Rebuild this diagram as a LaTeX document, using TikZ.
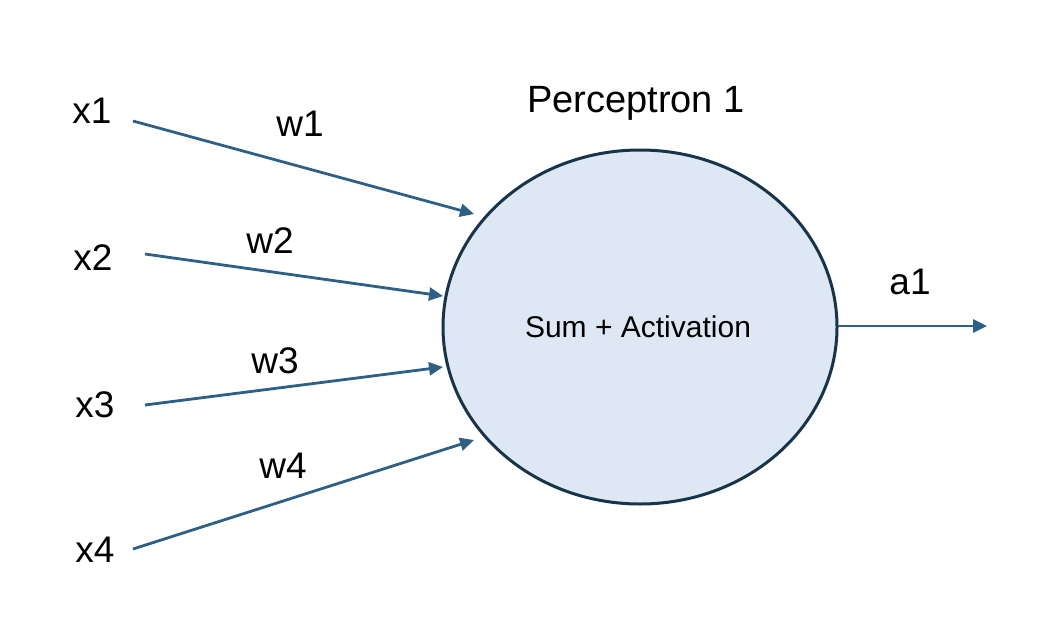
\documentclass[tikz,border=0pt]{standalone}
\usepackage{fontspec}
\setmainfont{Liberation Sans}
\usetikzlibrary{arrows.meta,shapes.geometric}
\definecolor{arrowblue}{HTML}{2E6085}
\definecolor{cellfill}{HTML}{DEE8F4}
\definecolor{celledge}{HTML}{17344A}
\begin{document}
\begin{tikzpicture}[x=1pt,y=-1pt,
  lbl/.style={font=\fontsize{37}{40}\selectfont, inner sep=0pt, anchor=center},
  conn/.style={draw=arrowblue, line width=2.8pt, -{Triangle[length=14pt,width=13pt]}}]
\useasboundingbox (0,0) rectangle (1056,634);
\node[ellipse, draw=celledge, fill=cellfill, line width=3pt, minimum width=394pt, minimum height=354pt, inner sep=0pt] (cell) at (640,327) {};
\node[font=\fontsize{30}{34}\selectfont, inner sep=0pt] (inner) at (638,327) {Sum + Activation};
\node[font=\fontsize{38}{42}\selectfont, inner sep=0pt] (title) at (636,103) {Perceptron 1};
\node[lbl] (x1) at (92,111) {x1};
\node[lbl] (x2) at (93,258) {x2};
\node[lbl] (x3) at (95,405) {x3};
\node[lbl] (x4) at (95,550) {x4};
\node[lbl] (w1) at (300,124) {w1};
\node[lbl] (w2) at (270,241) {w2};
\node[lbl] (w3) at (275,361) {w3};
\node[lbl] (w4) at (283,466) {w4};
\node[lbl] (a1) at (910,282) {a1};
\coordinate (s1) at (133,121); \coordinate (e1) at (474,214);
\coordinate (s2) at (145,254); \coordinate (e2) at (443,296);
\coordinate (s3) at (145,405); \coordinate (e3) at (443,367);
\coordinate (s4) at (133,549); \coordinate (e4) at (474,440);
\coordinate (so) at (838,326); \coordinate (eo) at (987,326);
\draw[conn] (s1) -- (e1);
\draw[conn] (s2) -- (e2);
\draw[conn] (s3) -- (e3);
\draw[conn] (s4) -- (e4);
\draw[conn] (so) -- (eo);
\end{tikzpicture}
\end{document}
